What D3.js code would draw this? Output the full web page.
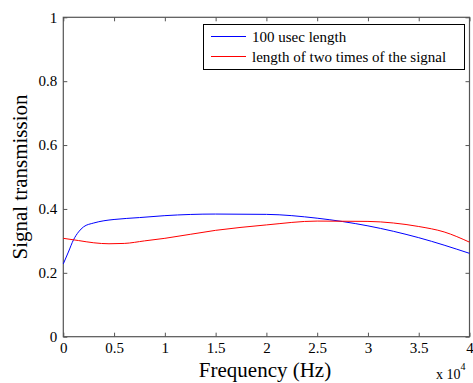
<!DOCTYPE html>
<html><head><meta charset="utf-8">
<script src="https://cdn.jsdelivr.net/npm/d3@7"></script>
<style>body{margin:0;background:#fff}svg{display:block}svg text{font-family:"Liberation Serif","DejaVu Serif",serif;fill:#000}</style>
</head><body><svg id="c" width="473" height="383" font-family="Liberation Serif, DejaVu Serif, serif"></svg>
<script>
const xTicks = [0,0.5,1,1.5,2,2.5,3,3.5,4];
const yTicks = [0,0.2,0.4,0.6,0.8,1];
const freqBlue = [0,0.05,0.1,0.15,0.2,0.3,0.4,0.5,0.75,1,1.5,2,2.5,3,3.5,4];
const valBlue  = [0.228,0.265,0.303,0.328,0.344,0.356,0.363,0.367,0.373,0.379,0.384,0.383,0.371,0.347,0.31,0.261];
const freqRed = [0,0.15,0.3,0.45,0.6,0.8,1,1.5,2,2.5,3,3.25,3.5,3.75,4];
const valRed  = [0.308,0.301,0.294,0.291,0.292,0.300,0.308,0.333,0.350,0.362,0.361,0.356,0.345,0.328,0.296];
const series = [
  {name:"100 usec length", color:"#0000ff", x:freqBlue, y:valBlue},
  {name:"length of two times of the signal", color:"#ff0000", x:freqRed, y:valRed}
];
const FONT='"Liberation Serif","DejaVu Serif",serif';
const L=63.3,R=469.5,T=17.3,B=336.7;
const svg=d3.select("#c");
const x=d3.scaleLinear().domain([0,4]).range([L,R]);
const y=d3.scaleLinear().domain([0,1]).range([B,T]);
const axCol="#555";
svg.append("rect").attr("x",L).attr("y",T).attr("width",R-L).attr("height",B-T).attr("fill","none").attr("stroke",axCol).attr("stroke-width",1.2);
const fmt=d=>d3.format("")(d);
const gx=svg.append("g").attr("transform",`translate(0,${B})`).call(d3.axisBottom(x).tickValues(xTicks).tickSize(-4).tickPadding(6).tickFormat(fmt));
const gxt=svg.append("g").attr("transform",`translate(0,${T})`).call(d3.axisTop(x).tickValues(xTicks).tickSize(-4).tickFormat(""));
const gy=svg.append("g").attr("transform",`translate(${L},0)`).call(d3.axisLeft(y).tickValues(yTicks).tickSize(-4).tickPadding(6).tickFormat(fmt));
const gyr=svg.append("g").attr("transform",`translate(${R},0)`).call(d3.axisRight(y).tickValues(yTicks).tickSize(-4).tickFormat(""));
[gx,gxt,gy,gyr].forEach(g=>{g.attr("font-family",FONT).attr("font-size",15);g.select(".domain").remove();g.selectAll("line").attr("stroke",axCol);g.selectAll("text").attr("fill","#000").style("font-family",FONT);});
const line=d3.line().x(d=>x(d[0])).y(d=>y(d[1])).curve(d3.curveMonotoneX);
series.forEach(s=>{
  svg.append("path").datum(s.x.map((v,i)=>[v,s.y[i]])).attr("d",line).attr("fill","none").attr("stroke",s.color).attr("stroke-width",1);
});
// legend
const lg=svg.append("g");
lg.append("rect").attr("x",203.5).attr("y",24.5).attr("width",261).attr("height",45).attr("fill","#fff").attr("stroke","#000").attr("stroke-width",1);
series.forEach((s,i)=>{
  const yy=36.5+i*20;
  lg.append("line").attr("x1",211).attr("x2",246).attr("y1",yy).attr("y2",yy).attr("stroke",s.color).attr("stroke-width",1);
  lg.append("text").attr("x",252).attr("y",yy+5).style("font-family",FONT).style("font-size","15px").text(s.name);
});
svg.append("text").attr("x",265).attr("y",377).attr("text-anchor","middle").style("font-family",FONT).style("font-size","21px").text("Frequency (Hz)");
svg.append("text").attr("transform",`translate(27,${(T+B)/2}) rotate(-90)`).attr("text-anchor","middle").style("font-family",FONT).style("font-size","21px").text("Signal transmission");
const ex=svg.append("text").attr("x",436).attr("y",379).style("font-family",FONT).style("font-size","14px");
ex.append("tspan").text("x 10");
ex.append("tspan").attr("dy",-9).style("font-size","10px").text("4");
</script></body></html>
